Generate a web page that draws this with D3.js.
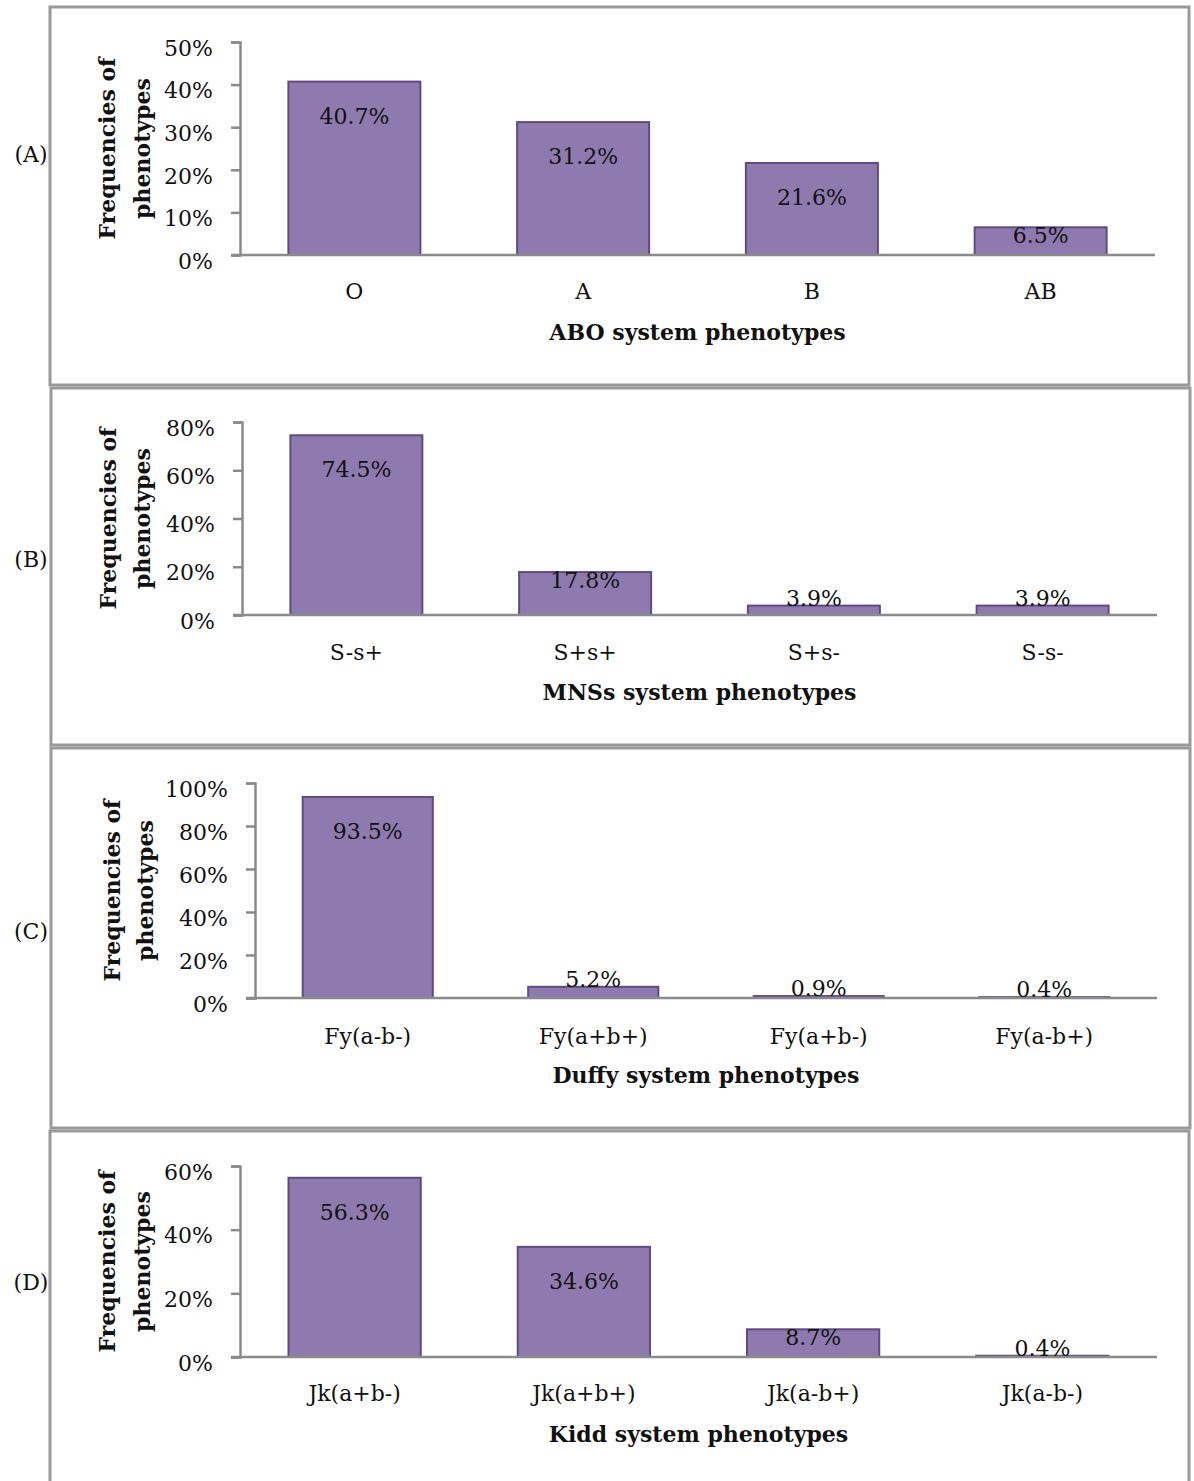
<!DOCTYPE html>
<html>
<head>
<meta charset="utf-8">
<script src="https://cdn.jsdelivr.net/npm/d3@7"></script>
<style>
  html, body { margin: 0; padding: 0; background: #fff; }
  svg { display: block; }
  text { font-family: "DejaVu Serif", "Liberation Serif", serif; fill: #111; }
</style>
</head>
<body>
<svg id="chart" width="1194" height="1481"></svg>
<script>
// ---- data ----
const aboCategories = ["O", "A", "B", "AB"];
const aboValues = [40.7, 31.2, 21.6, 6.5];
const aboTicks = [0, 10, 20, 30, 40, 50];

const mnsCategories = ["S-s+", "S+s+", "S+s-", "S-s-"];
const mnsValues = [74.5, 17.8, 3.9, 3.9];
const mnsTicks = [0, 20, 40, 60, 80];

const duffyCategories = ["Fy(a-b-)", "Fy(a+b+)", "Fy(a+b-)", "Fy(a-b+)"];
const duffyValues = [93.5, 5.2, 0.9, 0.4];
const duffyTicks = [0, 20, 40, 60, 80, 100];

const kiddCategories = ["Jk(a+b-)", "Jk(a+b+)", "Jk(a-b+)", "Jk(a-b-)"];
const kiddValues = [56.3, 34.6, 8.7, 0.4];
const kiddTicks = [0, 20, 40, 60];

const panelTags = ["(A)", "(B)", "(C)", "(D)"];
const xTitles = ["ABO system phenotypes", "MNSs system phenotypes", "Duffy system phenotypes", "Kidd system phenotypes"];
const yTitleLines = ["Frequencies of", "phenotypes"];

// ---- layout ----
const panels = [
  { cats: aboCategories, vals: aboValues, ticks: aboTicks,
    box: [50, 7, 1189, 385], ax: 240, y0: 255, yTop: 42, xr: 1155, catY: 291, titleY: 332, tagY: 155, yt: [107, 142] },
  { cats: mnsCategories, vals: mnsValues, ticks: mnsTicks,
    box: [51, 388, 1190, 745], ax: 242, y0: 615, yTop: 422, xr: 1157, catY: 652, titleY: 692, tagY: 560, yt: [108, 142] },
  { cats: duffyCategories, vals: duffyValues, ticks: duffyTicks,
    box: [51, 748, 1190, 1128], ax: 255, y0: 998, yTop: 783, xr: 1157, catY: 1036, titleY: 1075, tagY: 932, yt: [112, 145] },
  { cats: kiddCategories, vals: kiddValues, ticks: kiddTicks,
    box: [50, 1131, 1189, 1500], ax: 240, y0: 1357, yTop: 1166, xr: 1157, catY: 1393, titleY: 1434, tagY: 1283, yt: [107, 142] }
];

const svg = d3.select("#chart");
const FS = 22;
const axisColor = "#8a8a8a";
const barFill = "#8f7ab0";
const barStroke = "#5f4b80";

panels.forEach((p, i) => {
  const g = svg.append("g");

  // panel box
  g.append("rect")
    .attr("x", p.box[0]).attr("y", p.box[1])
    .attr("width", p.box[2] - p.box[0]).attr("height", p.box[3] - p.box[1])
    .attr("fill", "none").attr("stroke", "#9a9a9a").attr("stroke-width", 3);

  // panel tag
  g.append("text")
    .attr("x", 31).attr("y", p.tagY + 7)
    .attr("text-anchor", "middle")
    .style("font-size", FS + "px")
    .text(panelTags[i]);

  const x = d3.scaleBand().domain(p.cats).range([p.ax, p.xr])
    .paddingInner(0.423).paddingOuter(0.2115);
  const y = d3.scaleLinear().domain([0, d3.max(p.ticks)]).range([p.y0, p.yTop]);

  // y axis
  const yAxis = d3.axisLeft(y).tickValues(p.ticks).tickFormat(d => d + "%")
    .tickSize(9).tickSizeOuter(9).tickPadding(18);
  const yg = g.append("g").attr("transform", `translate(${p.ax},0)`).call(yAxis);
  yg.select(".domain").attr("stroke", axisColor).attr("stroke-width", 2.5);
  yg.selectAll(".tick line").attr("stroke", axisColor).attr("stroke-width", 2.5);
  yg.selectAll(".tick text")
    .attr("dy", "0.6em")
    .style("font-size", FS + "px")
    .style("font-family", "'DejaVu Serif', serif")
    .attr("fill", "#111");

  // bars
  g.selectAll("rect.bar").data(p.cats.map((c, k) => ({ c, v: p.vals[k] })))
    .enter().append("rect").attr("class", "bar")
    .attr("x", d => x(d.c))
    .attr("y", d => y(d.v))
    .attr("width", x.bandwidth())
    .attr("height", d => p.y0 - y(d.v))
    .attr("fill", barFill)
    .attr("stroke", barStroke)
    .attr("stroke-width", 2);

  // x axis
  const xAxis = d3.axisBottom(x).tickSize(0).tickSizeOuter(0).tickPadding(0);
  const xg = g.append("g").attr("transform", `translate(0,${p.y0})`).call(xAxis);
  xg.select(".domain").attr("stroke", axisColor).attr("stroke-width", 2.5)
    .attr("d", `M${p.ax - 9},0H${p.xr}`);
  xg.selectAll(".tick text")
    .attr("y", p.catY - p.y0 + 8)
    .attr("dy", null)
    .style("font-size", FS + "px")
    .style("font-family", "'DejaVu Serif', serif")
    .attr("fill", "#111");

  // value labels
  g.selectAll("text.val").data(p.cats.map((c, k) => ({ c, v: p.vals[k] })))
    .enter().append("text").attr("class", "val")
    .attr("x", d => x(d.c) + x.bandwidth() / 2)
    .attr("y", d => {
      const top = y(d.v), h = p.y0 - top;
      const center = h > 60 ? top + 34 : (h > 20 ? top + 8 : top - 8);
      return center + 8;
    })
    .attr("text-anchor", "middle")
    .style("font-size", FS + "px")
    .text(d => d.v.toFixed(1) + "%");

  // x title
  g.append("text")
    .attr("x", (p.ax + p.xr) / 2).attr("y", p.titleY + 8)
    .attr("text-anchor", "middle")
    .style("font-size", FS + "px").style("font-weight", "bold")
    .text(xTitles[i]);

  // y title (two lines, rotated)
  const cy = (p.y0 + p.yTop) / 2;
  yTitleLines.forEach((line, j) => {
    g.append("text")
      .attr("transform", `translate(${p.yt[j] + 8},${cy}) rotate(-90)`)
      .attr("text-anchor", "middle")
      .style("font-size", FS + "px").style("font-weight", "bold")
      .text(line);
  });
});
</script>
</body>
</html>
